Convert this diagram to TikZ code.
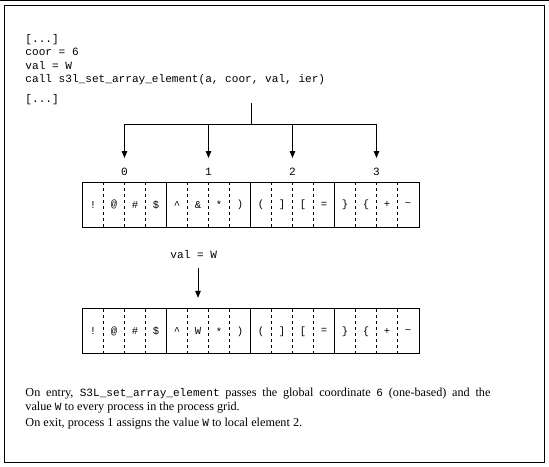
\documentclass[tikz,border=0pt]{standalone}
\usepackage{fontspec}
\setmainfont{Liberation Serif}
\setmonofont{Liberation Mono}
\usetikzlibrary{arrows.meta}
\newcommand\cellW{21}
\newcommand\cellH{44}
\newcommand\arrLeft{82.5}
\newcommand\rowA{182.7}
\newcommand\rowB{309.3}
\newcommand\procW{84}

\tikzset{
  code/.style={anchor=west, inner sep=0pt, font=\ttfamily\fontsize{11.1}{13}\selectfont, text height=7pt, text depth=2pt},
  cell/.style={inner sep=0pt, minimum width=\cellW pt, minimum height=\cellH pt, font=\ttfamily\fontsize{10.5}{12}\selectfont},
  body/.style={anchor=west, inner sep=0pt, font=\fontsize{12.2}{14}\selectfont, text height=7pt, text depth=2pt},
  arr/.style={-{Triangle[width=5.5pt,length=7pt]}},
  sep/.style={dash pattern=on 3pt off 3pt},
}
\newcommand\mono[1]{{\ttfamily\fontsize{11.1}{13}\selectfont #1}}

\begin{document}
\begin{tikzpicture}[x=1pt, y=-1pt, line width=0.9pt]
    \useasboundingbox (0,0) rectangle (549,466);
    \draw (0,0.5) -- (549,0.5);
    \draw (4,5) rectangle (544.5,462);

    %% code lines
    \node[code] (c1) at (25,40) {[...]};
    \node[code] (c2) at (25,53.3) {coor = 6};
    \node[code] (c3) at (25,66.7) {val = W};
    \node[code] (c4) at (25,80) {call s3l\_set\_array\_element(a, coor, val, ier)};
    \node[code] (c5) at (25,100) {[...]};

    %% fan out to the processes
    \coordinate (stem) at (251.5,103);
    \coordinate (fork) at (251.5,124.5);
    \draw (stem) -- (fork);
    \foreach \p in {0,...,3}{
      \coordinate (tip\p) at (\arrLeft+\procW/2+\procW*\p,158);
      \node[code, anchor=center] (p\p) at (\arrLeft+\procW/2+\procW*\p,173) {\p};
      \draw[arr] (fork) -| (tip\p);
    }

    %% array on entry
    \foreach \c [count=\i from 0] in {!,@,\#,\$,\textasciicircum,\&,*,{)},{(},{]},{[},=,\},\{,+,\textasciitilde}{
      \node[cell] (a\i) at (\arrLeft+\cellW/2+\cellW*\i,\rowA+\cellH/2) {\c};
    }
    \draw (a0.north west) rectangle (a15.south east);
    \foreach \i in {1,2,3,5,6,7,9,10,11,13,14,15}{
      \draw[sep] (a\i.north west) -- (a\i.south west);
    }
    \foreach \i in {4,8,12}{
      \draw (a\i.north west) -- (a\i.south west);
    }

    %% new value
    \node[code] (val) at (170,255.7) {val = W};

    %% array on exit
    \foreach \c [count=\i from 0] in {!,@,\#,\$,\textasciicircum,W,*,{)},{(},{]},{[},=,\},\{,+,\textasciitilde}{
      \node[cell] (b\i) at (\arrLeft+\cellW/2+\cellW*\i,\rowB+\cellH/2) {\c};
    }
    \draw (b0.north west) rectangle (b15.south east);
    \foreach \i in {1,2,3,5,6,7,9,10,11,13,14,15}{
      \draw[sep] (b\i.north west) -- (b\i.south west);
    }
    \foreach \i in {4,8,12}{
      \draw (b\i.north west) -- (b\i.south west);
    }
    \draw[arr, shorten <=7pt, shorten >=11pt] (val.south -| b5.north) -- (b5.north);

    %% description
    \node[body] (t1) at (25,393.5) {\makebox[465pt][s]{On entry, \mono{S3L\_set\_array\_element} passes the global coordinate \mono{6} (one-based) and the}};
    \node[body] (t2) at (25,407.5) {value \mono{W} to every process in the process grid.};
    \node[body] (t3) at (25,424) {On exit, process 1 assigns the value \mono{W} to local element 2.};
\end{tikzpicture}
\end{document}
